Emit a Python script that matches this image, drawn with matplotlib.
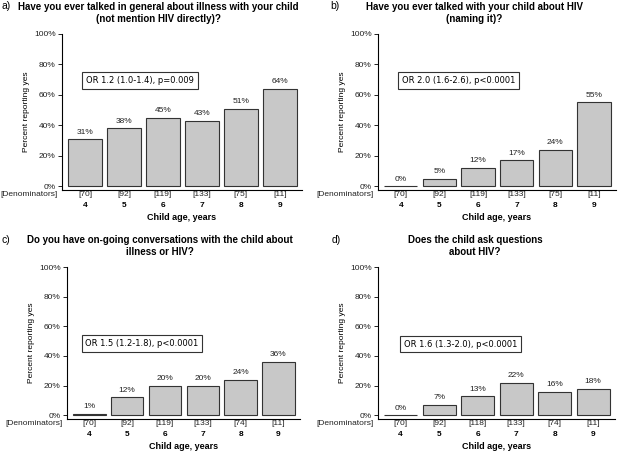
import matplotlib
matplotlib.use("Agg")
import matplotlib.pyplot as plt

# =========================
# Data
# =========================
ages = [4, 5, 6, 7, 8, 9]

pct_a = [31, 38, 45, 43, 51, 64]
pct_b = [0, 5, 12, 17, 24, 55]
pct_c = [1, 12, 20, 20, 24, 36]
pct_d = [0, 7, 13, 22, 16, 18]

den_a = [70, 92, 119, 133, 75, 11]
den_b = [70, 92, 119, 133, 75, 11]
den_c = [70, 92, 119, 133, 74, 11]
den_d = [70, 92, 118, 133, 74, 11]

titles = [
    "Have you ever talked in general about illness with your child\n(not mention HIV directly)?",
    "Have you ever talked with your child about HIV\n(naming it)?",
    "Do you have on-going conversations with the child about\nillness or HIV?",
    "Does the child ask questions\nabout HIV?",
]
letters = ["a)", "b)", "c)", "d)"]
or_texts = [
    "OR 1.2 (1.0-1.4), p=0.009",
    "OR 2.0 (1.6-2.6), p<0.0001",
    "OR 1.5 (1.2-1.8), p<0.0001",
    "OR 1.6 (1.3-2.0), p<0.0001",
]

SANS = ["Liberation Sans", "DejaVu Sans"]
plt.rcParams["font.family"] = SANS

fig = plt.figure(figsize=(6.23, 4.54), dpi=100)
W, H = 623, 454

def px_axes(x0, y_top, x1, y_bot):
    return fig.add_axes([x0 / W, 1 - y_bot / H, (x1 - x0) / W, (y_bot - y_top) / H])

# axes rectangles in pixels (left, top of 100%, right, x-axis line)
rects = [
    (62, 34, 302, 190),
    (378, 34, 616, 190),
    (67, 267, 300, 419),
    (378, 267, 615, 419),
]
# OR box positions (data coords)
or_pos = [(5.41, 69.5), (5.5, 69.5), (5.39, 48.3), (5.55, 48.0)]
# title centres in pixels
title_pos = [(158, 13), (474, 13), (160, 246), (475, 246)]
letter_pos = [(2, 6), (330, 6), (2, 240), (332, 240)]

all_pct = [pct_a, pct_b, pct_c, pct_d]
all_den = [den_a, den_b, den_c, den_d]

for i in range(4):
    ax = px_axes(*rects[i])
    pct = all_pct[i]
    den = all_den[i]
    ax.bar(ages, pct, width=0.86, color="#c8c8c8", edgecolor="#333333", linewidth=0.8)
    for a, p in zip(ages, pct):
        ax.annotate(f"{p}%", xy=(a, p), xytext=(0, 2.5), textcoords="offset points",
                    ha="center", va="bottom", fontsize=6, color="#222222")
    ax.set_xlim(3.41, 9.57)
    ax.set_ylim(-2.5, 100)
    ax.set_yticks([0, 20, 40, 60, 80, 100])
    ax.set_yticklabels(["0%", "20%", "40%", "60%", "80%", "100%"])
    ax.tick_params(axis="y", labelsize=6, length=3, width=0.7, pad=1.5, colors="#222222")
    ax.set_xticks([])
    ax.spines["top"].set_visible(False)
    ax.spines["right"].set_visible(False)
    ax.spines["left"].set_linewidth(0.8)
    ax.spines["bottom"].set_linewidth(0.8)
    ax.set_ylabel("Percent reporting yes", fontsize=6, labelpad=3)

    # denominators and ages under the axis
    for a, d in zip(ages, den):
        ax.annotate(f"[{d}]", xy=(a, 0), xycoords=("data", "axes fraction"),
                    xytext=(0, -3.5), textcoords="offset points",
                    ha="center", va="center", fontsize=6, color="#222222")
        ax.annotate(str(a), xy=(a, 0), xycoords=("data", "axes fraction"),
                    xytext=(0, -11.5), textcoords="offset points",
                    ha="center", va="center", fontsize=6, fontweight="bold")
    ax.annotate("[Denominators]", xy=(0, 0), xycoords="axes fraction",
                xytext=(-3, -3.5), textcoords="offset points",
                ha="right", va="center", fontsize=6, color="#222222")
    ax.annotate("Child age, years", xy=(0.5, 0), xycoords="axes fraction",
                xytext=(0, -20), textcoords="offset points",
                ha="center", va="center", fontsize=6.5, fontweight="bold")

    ax.text(or_pos[i][0], or_pos[i][1], or_texts[i], ha="center", va="center",
            fontsize=6, family="DejaVu Sans",
            bbox=dict(boxstyle="square,pad=0.45", facecolor="white", edgecolor="#333333", linewidth=0.8))

    tx, ty = title_pos[i]
    fig.text(tx / W, 1 - ty / H, titles[i], ha="center", va="center",
             fontsize=7, fontweight="bold", linespacing=1.25)
    lx, ly = letter_pos[i]
    fig.text(lx / W, 1 - ly / H, letters[i], ha="left", va="center", fontsize=7.5)

fig.savefig("out.png", dpi=100)
